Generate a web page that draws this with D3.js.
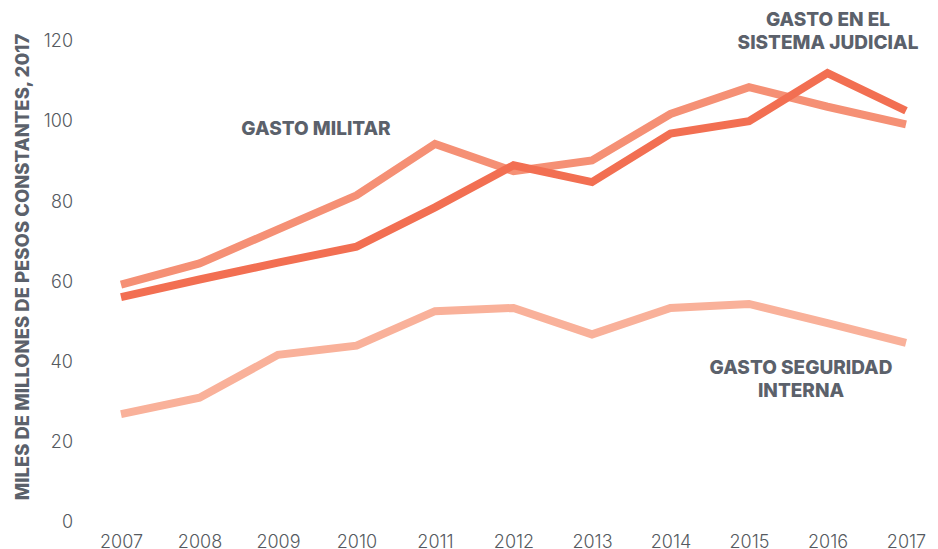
<!DOCTYPE html>
<html>
<head>
<meta charset="utf-8">
<script src="https://cdn.jsdelivr.net/npm/d3@7"></script>
<style>
  body { margin: 0; background: #fff; }
  svg { display: block; }
  .tick text { font-family: Inter, "Noto Sans", sans-serif; font-weight: 300; font-size: 18px; fill: #555a60; }
  .lbl { font-family: Inter, "Noto Sans", sans-serif; font-weight: 800; font-size: 19px; fill: #5b616b; }
</style>
</head>
<body>
<svg width="938" height="549"></svg>
<script>
// data
const years = [2007, 2008, 2009, 2010, 2011, 2012, 2013, 2014, 2015, 2016, 2017];
const militar = [59.2, 64.5, 73, 81.5, 94.3, 87.5, 90.2, 101.8, 108.5, 103.6, 99.2];
const judicial = [56.1, 60.5, 64.7, 68.7, 78.5, 89, 84.8, 96.9, 100, 112, 102.6];
const seguridad = [26.9, 31, 41.7, 44, 52.6, 53.4, 46.8, 53.4, 54.4, 49.6, 44.7];
const yTicks = [0, 20, 40, 60, 80, 100, 120];

const series = [
  { name: "seguridad", values: seguridad, color: "#f9b19a" },
  { name: "militar", values: militar, color: "#f59075" },
  { name: "judicial", values: judicial, color: "#f26f52" }
];

const svg = d3.select("svg");
const margin = { top: 41, right: 32, bottom: 27, left: 121 };
const width = 938 - margin.left - margin.right;
const height = 549 - margin.top - margin.bottom;

const g = svg.append("g").attr("transform", `translate(${margin.left},${margin.top})`);

const x = d3.scalePoint().domain(years).range([0, width]);
const y = d3.scaleLinear().domain([0, 120]).range([height, 0]);

// axes, no lines
const leftAxis = d3.axisLeft(y).tickValues(yTicks).tickSize(0).tickPadding(48);
g.append("g").attr("class", "left axis").call(leftAxis)
  .call(a => a.select(".domain").remove());

const bottomAxis = d3.axisBottom(x).tickSize(0).tickPadding(13);
g.append("g").attr("class", "bottom axis")
  .attr("transform", `translate(0,${height})`)
  .call(bottomAxis)
  .call(a => a.select(".domain").remove());

// y axis-label
svg.append("text")
  .attr("class", "lbl")
  .attr("transform", "rotate(-90)")
  .attr("x", -267)
  .attr("y", 29)
  .attr("font-size", "18.5px")
  .style("font-size", "18.5px")
  .attr("text-anchor", "middle")
  .text("MILES DE MILLONES DE PESOS CONSTANTES, 2017");

// lines
const line = d3.line().x((d, i) => x(years[i])).y(d => y(d));
g.selectAll(".series")
  .data(series)
  .join("path")
  .attr("class", "series")
  .attr("fill", "none")
  .attr("stroke", d => d.color)
  .attr("stroke-width", 8)
  .attr("stroke-linejoin", "miter")
  .attr("d", d => line(d.values));

// labels
const labels = [
  { lines: ["GASTO MILITAR"], x: 316, y: 135 },
  { lines: ["GASTO EN EL", "SISTEMA JUDICIAL"], x: 828, y: 26 },
  { lines: ["GASTO SEGURIDAD", "INTERNA"], x: 801, y: 374 }
];
labels.forEach(l => {
  const t = svg.append("text")
    .attr("class", "lbl")
    .attr("text-anchor", "middle")
    .attr("x", l.x)
    .attr("y", l.y);
  l.lines.forEach((s, i) => {
    t.append("tspan").attr("x", l.x).attr("dy", i ? 22.5 : 0).text(s);
  });
});
</script>
</body>
</html>
